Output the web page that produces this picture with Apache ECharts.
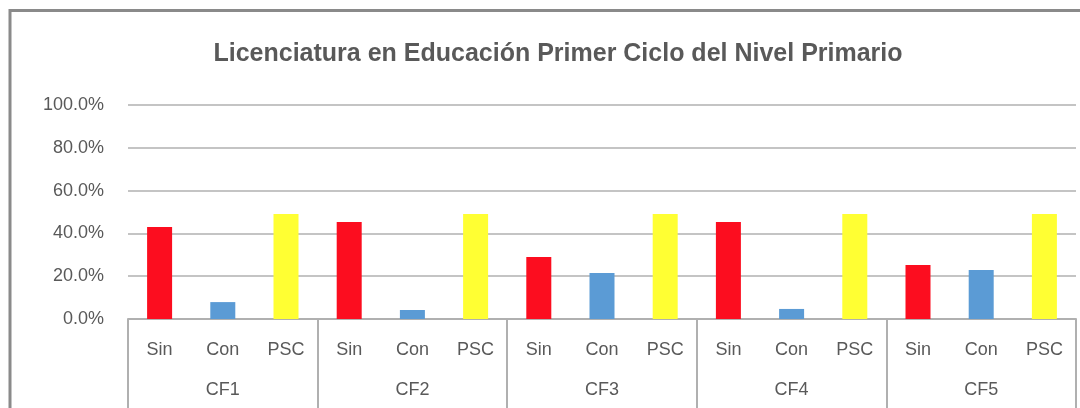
<!DOCTYPE html>
<html>
<head>
<meta charset="utf-8">
<script src="https://cdn.jsdelivr.net/npm/echarts@6/dist/echarts.min.js"></script>
<style>
  html, body { margin: 0; padding: 0; background: #fff; }
  #chart { width: 1080px; height: 408px; }
</style>
</head>
<body>
<div id="chart"></div>
<script>
var groups = ['CF1', 'CF2', 'CF3', 'CF4', 'CF5'];
var subLabels = ['Sin', 'Con', 'PSC'];
var sinValues = [43.0, 45.3, 29.0, 45.3, 25.2];
var conValues = [7.9, 4.2, 21.5, 4.7, 22.9];
var pscValues = [49.1, 49.1, 49.1, 49.1, 49.1];
var yTicks = [0, 20, 40, 60, 80, 100];

var colors = ['#fc0d1f', '#5b9bd5', '#ffff33'];

var myChart = echarts.init(document.getElementById('chart'));

// one bar per sub category, colour by position in the group
var flatLabels = [], flatData = [];
groups.forEach(function (g, i) {
    [sinValues[i], conValues[i], pscValues[i]].forEach(function (v, k) {
        flatLabels.push(subLabels[k]);
        flatData.push({ value: v, itemStyle: { color: colors[k] } });
    });
});

var labelFont = { fontFamily: 'Liberation Sans, Arial', fontSize: 18, color: '#595959' };

option = {
    animation: false,
    title: {
        text: 'Licenciatura en Educación Primer Ciclo del Nivel Primario',
        left: 553,
        textAlign: 'center',
        top: 37,
        textStyle: { fontFamily: 'Liberation Sans, Arial', fontSize: 25, fontWeight: 'bold', color: '#595959' }
    },
    graphic: [{
        type: 'rect',
        shape: { x: 10, y: 10.5, width: 1200, height: 600 },
        style: { fill: 'none', stroke: '#8a8a8a', lineWidth: 3 },
        silent: true
    }],
    grid: { left: 128, right: 4, top: 105, bottom: 89 },
    xAxis: [
        {
            type: 'category',
            data: flatLabels,
            axisLine: { show: false },
            axisTick: { show: false },
            axisLabel: Object.assign({ margin: 22, interval: 0 }, labelFont)
        },
        {
            type: 'category',
            data: groups,
            position: 'bottom',
            axisLine: { show: true, lineStyle: { color: '#b0b0b0', width: 2 } },
            axisTick: { show: true, length: 100, lineStyle: { color: '#b0b0b0', width: 2 } },
            axisLabel: Object.assign({ margin: 62, interval: 0 }, labelFont)
        }
    ],
    yAxis: {
        type: 'value',
        min: yTicks[0],
        max: yTicks[yTicks.length - 1],
        interval: 20,
        axisLine: { show: false },
        axisTick: { show: false },
        splitLine: { lineStyle: { color: '#b0b0b0', width: 1.5 } },
        axisLabel: Object.assign({ margin: 24, formatter: function (v) { return v.toFixed(1) + '%'; } }, labelFont)
    },
    series: [
        {
            type: 'bar',
            xAxisIndex: 0,
            barWidth: 25,
            data: flatData
        }
    ]
};

myChart.setOption(option, true);
</script>
</body>
</html>
